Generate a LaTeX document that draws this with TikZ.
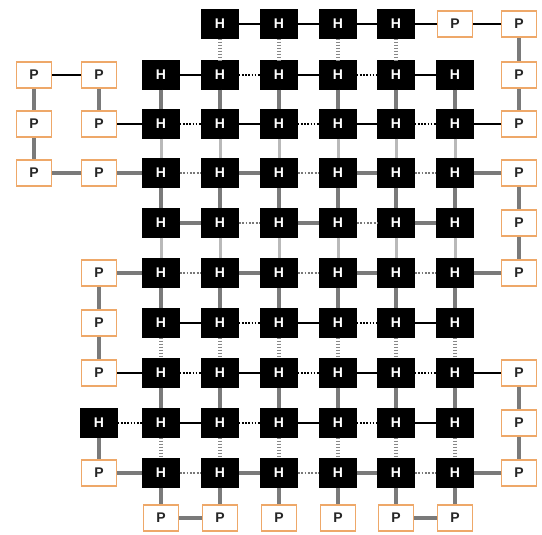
\documentclass[tikz,border=0pt]{standalone}
\usepackage{fontspec}
\setsansfont{Liberation Sans}
\definecolor{porange}{RGB}{238,168,105}
\definecolor{tgray}{RGB}{122,122,122}
\definecolor{lgray}{RGB}{185,185,185}
\definecolor{dgray}{RGB}{120,120,120}
\definecolor{vgray}{RGB}{135,135,135}
\begin{document}
\begin{tikzpicture}[x=1pt,y=-1pt,
  hnode/.style={draw=black,fill=black,minimum width=37pt,minimum height=29pt,inner sep=0pt,text=white,font=\sffamily\bfseries\fontsize{14}{14}\selectfont},
  pnode/.style={draw=porange,line width=1.8pt,fill=white,minimum width=35pt,minimum height=26.5pt,inner sep=0pt,text=black!85,font=\sffamily\bfseries\fontsize{14}{14}\selectfont},
  tb/.style={line width=1.5pt,black},
  tg/.style={line width=4pt,tgray},
  lg/.style={line width=3pt,lgray},
  db/.style={line width=1.7pt,black,dash pattern=on 1.6pt off 1.6pt},
  dg/.style={line width=2.8pt,dgray,dash pattern=on 1.8pt off 1.6pt},
  vd/.style={line width=4pt,vgray,dash pattern=on 1.6pt off 1.4pt}]
\useasboundingbox (0,0) rectangle (542,535);
% H nodes
\foreach \r/\c in {0/3,0/4,0/5,0/6,
  1/2,1/3,1/4,1/5,1/6,1/7,
  2/2,2/3,2/4,2/5,2/6,2/7,
  3/2,3/3,3/4,3/5,3/6,3/7,
  4/2,4/3,4/4,4/5,4/6,4/7,
  5/2,5/3,5/4,5/5,5/6,5/7,
  6/2,6/3,6/4,6/5,6/6,6/7,
  7/2,7/3,7/4,7/5,7/6,7/7,
  8/1,8/2,8/3,8/4,8/5,8/6,8/7,
  9/2,9/3,9/4,9/5,9/6,9/7}{
  \pgfmathsetmacro\xx{{34,99,161,220,279,338,396,455,519}[\c]}
  \pgfmathsetmacro\yy{{24,75,124,173,223,273,323,373,423,473,518}[\r]}
  \node[hnode] (n\r-\c) at (\xx,\yy) {H};
}
% P nodes
\foreach \r/\c in {0/7,0/8,1/0,1/1,1/8,2/0,2/1,2/8,3/0,3/1,3/8,4/8,
  5/1,5/8,6/1,7/1,7/8,8/8,9/1,9/8,
  10/2,10/3,10/4,10/5,10/6,10/7}{
  \pgfmathsetmacro\xx{{34,99,161,220,279,338,396,455,519}[\c]}
  \pgfmathsetmacro\yy{{24,75,124,173,223,273,323,373,423,473,518}[\r]}
  \node[pnode] (n\r-\c) at (\xx,\yy) {P};
}
% thin black horizontal
\foreach \a/\b in {0-3/0-4,0-4/0-5,0-5/0-6,0-6/0-7,0-7/0-8,
  1-0/1-1,1-2/1-3,1-4/1-5,1-6/1-7,
  2-1/2-2,2-3/2-4,2-5/2-6,2-7/2-8,
  6-2/6-3,6-4/6-5,6-6/6-7,
  7-1/7-2,7-3/7-4,7-5/7-6,7-7/7-8,
  8-2/8-3,8-4/8-5,8-6/8-7}
  \draw[tb] (n\a) -- (n\b);
% dotted black horizontal
\foreach \a/\b in {1-3/1-4,1-5/1-6,
  2-2/2-3,2-4/2-5,2-6/2-7,
  6-3/6-4,6-5/6-6,
  7-2/7-3,7-4/7-5,7-6/7-7,
  8-1/8-2,8-3/8-4,8-5/8-6}
  \draw[db] (n\a) -- (n\b);
% thick gray horizontal
\foreach \a/\b in {3-0/3-1,3-1/3-2,3-3/3-4,3-5/3-6,3-7/3-8,
  4-2/4-3,4-4/4-5,4-6/4-7,
  5-1/5-2,5-3/5-4,5-5/5-6,5-7/5-8,
  9-1/9-2,9-3/9-4,9-5/9-6,9-7/9-8,
  10-2/10-3,10-6/10-7}
  \draw[tg] (n\a) -- (n\b);
% dotted gray horizontal
\foreach \a/\b in {3-2/3-3,3-4/3-5,3-6/3-7,
  4-3/4-4,4-5/4-6,
  5-2/5-3,5-4/5-5,5-6/5-7,
  9-2/9-3,9-4/9-5,9-6/9-7}
  \draw[dg] (n\a) -- (n\b);
% vertical thick gray between H rows
\foreach \r/\s in {1/2,3/4,5/6,7/8,9/10}
  \foreach \c in {2,...,7}
    \draw[tg] (n\r-\c) -- (n\s-\c);
% vertical light gray
\foreach \r/\s in {2/3,4/5}
  \foreach \c in {2,...,7}
    \draw[lg] (n\r-\c) -- (n\s-\c);
% vertical ladder dashes
\foreach \c in {3,...,6}
  \draw[vd] (n0-\c) -- (n1-\c);
\foreach \r/\s in {6/7,8/9}
  \foreach \c in {2,...,7}
    \draw[vd] (n\r-\c) -- (n\s-\c);
% vertical P chains
\foreach \a/\b in {1-0/2-0,2-0/3-0,1-1/2-1,
  0-8/1-8,1-8/2-8,3-8/4-8,4-8/5-8,7-8/8-8,8-8/9-8,
  5-1/6-1,6-1/7-1,8-1/9-1}
  \draw[tg] (n\a) -- (n\b);
\end{tikzpicture}
\end{document}
